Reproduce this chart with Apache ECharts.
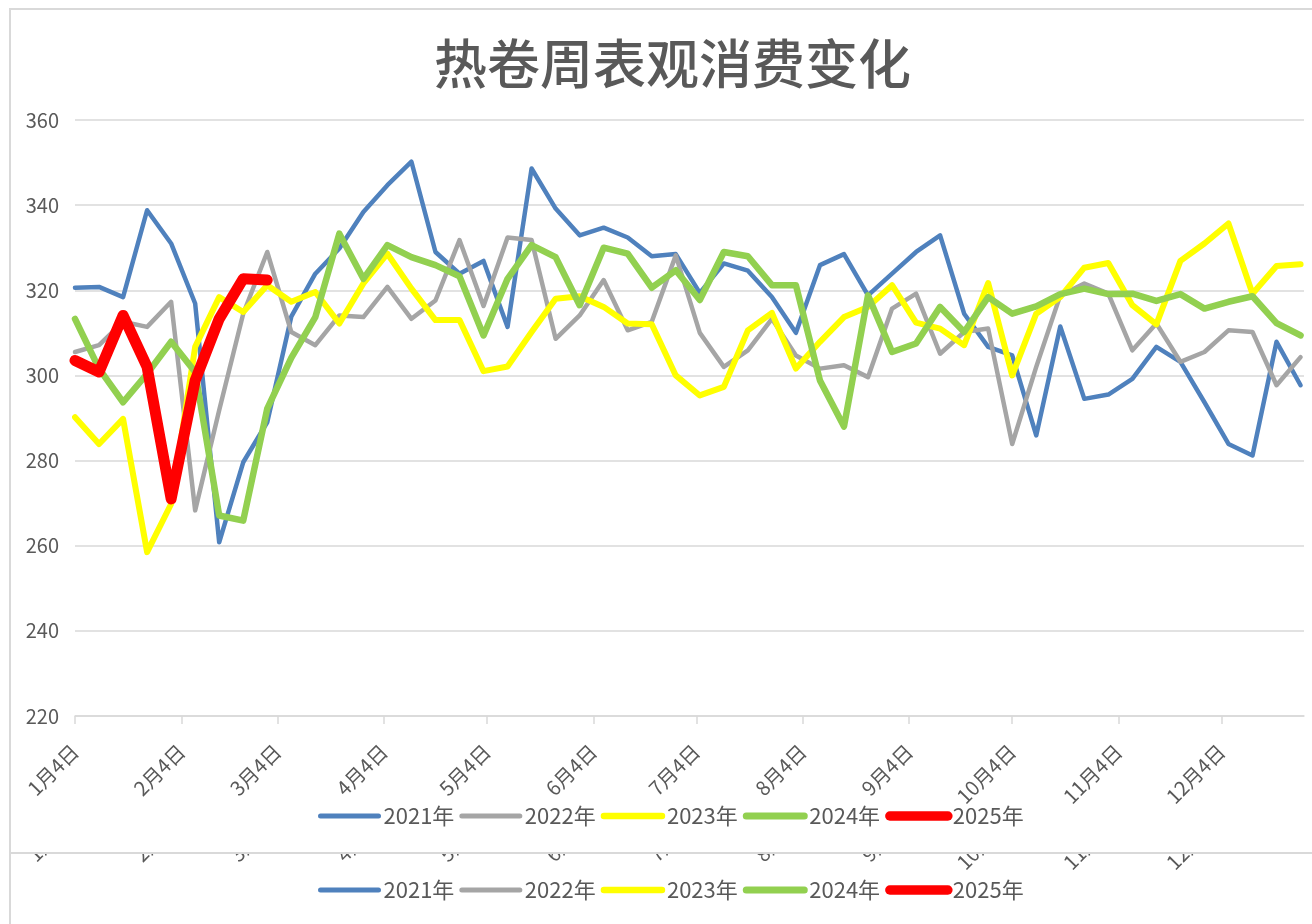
<!DOCTYPE html>
<html>
<head>
<meta charset="utf-8">
<title>热卷周表观消费变化</title>
<script src="https://cdn.jsdelivr.net/npm/echarts@6.0.0/dist/echarts.min.js"></script>
<style>
  html, body { margin: 0; padding: 0; background: #fff; }
  #main { width: 1312px; height: 924px; }
</style>
</head>
<body>
<div id="main"></div>
<script>
// 图例名称
var years = ['2021年', '2022年', '2023年', '2024年', '2025年'];

// 周度表观消费（万吨），每周一个点，从 1月4日 起
var y2021 = [320.6, 320.8, 318.4, 338.8, 331.0, 316.9, 260.8, 279.6, 289.0, 313.8,
             323.9, 329.8, 338.4, 344.7, 350.2, 329.0, 323.9, 326.9, 311.4, 348.6,
             339.2, 332.9, 334.7, 332.4, 328.0, 328.5, 319.4, 326.3, 324.6, 318.4,
             310.0, 325.9, 328.5, 318.8, 323.9, 329.0, 332.9, 314.5, 306.7, 304.7,
             285.9, 311.5, 294.5, 295.5, 299.2, 306.7, 303.2, 293.7, 283.9, 281.2,
             307.9, 297.7];
var y2022 = [305.5, 307.1, 312.6, 311.4, 317.3, 268.3, 291.8, 314.5, 329.0, 310.2,
             307.1, 314.1, 313.7, 320.8, 313.3, 317.6, 331.8, 316.3, 332.4, 331.8,
             308.6, 314.1, 322.4, 310.6, 312.6, 328.2, 310.0, 302.0, 305.9, 313.3,
             304.7, 301.6, 302.4, 299.6, 315.7, 319.2, 305.1, 310.2, 311.0, 283.9,
             302.0, 318.8, 321.6, 319.2, 305.9, 312.2, 303.2, 305.5, 310.6, 310.2,
             297.7, 304.3];
var y2023 = [290.2, 283.9, 289.8, 258.5, 269.8, 306.7, 318.4, 314.9, 321.2, 317.3,
             319.6, 312.2, 321.6, 328.6, 320.4, 313.0, 313.0, 301.0, 302.1, 310.2,
             318.0, 318.6, 316.1, 312.2, 312.0, 300.0, 295.3, 297.3, 310.6, 314.7,
             301.6, 307.9, 313.7, 316.1, 321.2, 312.4, 311.0, 307.1, 321.7, 300.0,
             314.5, 318.4, 325.3, 326.4, 316.5, 312.0, 326.9, 331.0, 335.7, 319.2,
             325.7, 326.1];
var y2024 = [313.3, 301.6, 293.7, 300.4, 307.9, 300.8, 267.1, 265.9, 292.2, 304.1,
             313.7, 333.3, 322.7, 330.6, 327.8, 325.9, 323.3, 309.4, 322.7, 330.6,
             327.8, 316.5, 330.0, 328.6, 320.6, 324.7, 317.7, 329.0, 328.0, 321.2,
             321.2, 298.8, 288.0, 318.8, 305.5, 307.5, 316.1, 310.2, 318.4, 314.5,
             316.2, 319.1, 320.4, 319.1, 319.2, 317.5, 319.1, 315.7, 317.3, 318.6,
             312.3, 309.4];
var y2025 = [303.5, 300.8, 314.1, 302.0, 271.0, 298.8, 313.3, 322.7, 322.4];

// 横轴刻度：距 1月4日 的天数
var monthLabels = ['1月4日', '2月4日', '3月4日', '4月4日', '5月4日', '6月4日',
                   '7月4日', '8月4日', '9月4日', '10月4日', '11月4日', '12月4日'];
var monthDays = [0, 31, 59, 90, 120, 151, 181, 212, 243, 273, 304, 334];

var colors = ['#4f81bd', '#a5a5a5', '#ffff00', '#92d050', '#ff0000'];
var lineWidths = [4.5, 4.5, 6, 6.5, 11];
var legendWidths = [5, 5, 6.5, 7, 9.5];
var FONT = 'Noto Sans CJK SC';
var TEXT = '#595959';
var GRID_LINE = '#d9d9d9';

var seriesValues = [y2021, y2022, y2023, y2024, y2025];

function weekly(vals) {
    // 每周一个点，7 天一格
    return vals.map(function (v, i) { return [i * 7, v]; });
}

function monthName(v) {
    var k = monthDays.indexOf(v);
    return k >= 0 ? monthLabels[k] : '';
}

function xAxisOf(gridIndex, main) {
    return {
        type: 'value',
        gridIndex: gridIndex,
        min: 0,
        max: 358,
        z: main ? 3 : 0,
        splitLine: { show: false },
        axisLine: { show: main, lineStyle: { color: GRID_LINE, width: 1.5 } },
        axisTick: {
            show: main,
            customValues: monthDays,
            length: 8,
            lineStyle: { color: GRID_LINE, width: 1.5 }
        },
        axisLabel: {
            customValues: monthDays,
            formatter: monthName,
            rotate: 45,
            margin: 32,
            fontSize: 20,
            fontFamily: FONT,
            color: TEXT
        }
    };
}

function legendAt(top) {
    return {
        top: top,
        left: 313,
        itemWidth: 58,
        itemHeight: 10,
        itemGap: 5,
        textStyle: { fontSize: 22, fontFamily: FONT, color: TEXT },
        data: years.map(function (n, i) {
            return {
                name: n,
                lineStyle: { width: legendWidths[i], cap: 'round', color: colors[i] },
                itemStyle: { opacity: 0 }
            };
        })
    };
}

var myChart = echarts.init(document.getElementById('main'), null, { renderer: 'canvas' });

var option = {
    animation: false,
    backgroundColor: '#fff',
    title: {
        text: '热卷周表观消费变化',
        left: 434,
        top: 37,
        padding: 0,
        textStyle: { fontSize: 53, fontWeight: 500, fontFamily: FONT, color: TEXT, lineHeight: 54 }
    },
    legend: [legendAt(800), legendAt(874)],
    grid: [
        { left: 75, right: 8, top: 120, bottom: 208 },
        { left: 75, right: 8, top: 700, bottom: 142 }
    ],
    xAxis: [xAxisOf(0, true), xAxisOf(1, false)],
    yAxis: [
        {
            type: 'value',
            gridIndex: 0,
            min: 220,
            max: 360,
            interval: 20,
            axisLine: { show: false },
            axisTick: { show: false },
            splitLine: { lineStyle: { color: GRID_LINE, width: 1.5 } },
            axisLabel: { margin: 16, fontSize: 20, fontFamily: FONT, color: TEXT }
        },
        { type: 'value', gridIndex: 1, show: false, min: 0, max: 1 }
    ],
    series: years.map(function (n, i) {
        return {
            name: n,
            type: 'line',
            xAxisIndex: 0,
            yAxisIndex: 0,
            data: weekly(seriesValues[i]),
            symbol: 'circle',
            showSymbol: false,
            color: colors[i],
            lineStyle: { color: colors[i], width: lineWidths[i], cap: 'round', join: 'round' },
            emphasis: { disabled: true }
        };
    }),
    graphic: {
        elements: [
            // 下方被遮住的第二张图，只露出刻度标签的尾部
            { type: 'rect', z: 1, silent: true,
              shape: { x: 12, y: 770, width: 1300, height: 82 },
              style: { fill: '#fff' } },
            // 图表外框
            { type: 'rect', z: 100, silent: true,
              shape: { x: 10, y: 9, width: 1330, height: 844 },
              style: { fill: 'none', stroke: GRID_LINE, lineWidth: 2 } },
            { type: 'line', z: 100, silent: true,
              shape: { x1: 10, y1: 853, x2: 10, y2: 930 },
              style: { stroke: GRID_LINE, lineWidth: 2 } }
        ]
    }
};

myChart.setOption(option);
window.onresize = myChart.resize;
</script>
</body>
</html>
